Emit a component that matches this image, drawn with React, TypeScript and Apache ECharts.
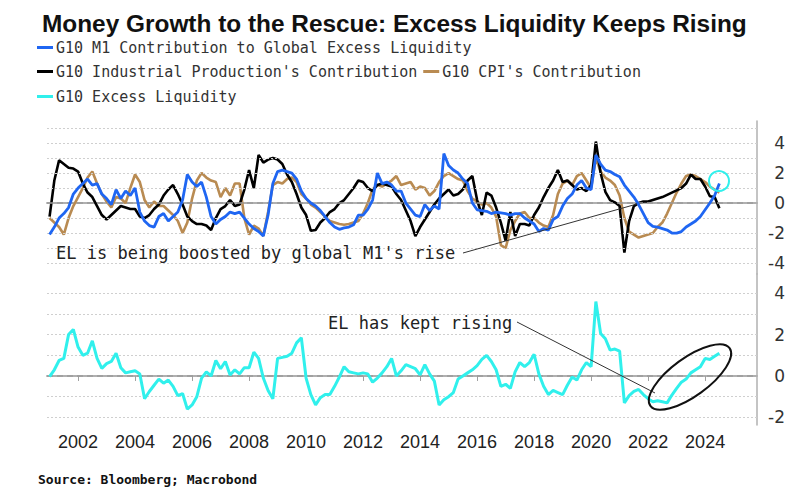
import React, { useEffect, useRef } from "react";
import * as echarts from "echarts";

// ---- data (bi-monthly samples, starting Jan 2001) ----
const START_YEAR = 2001;
const STEP = 1 / 6;

const m1Contribution = [
  -2.1, -1.6, -1.0, -0.7, -0.3, 0.6,
  1.0, 1.3, 1.6, 1.2, 1.3, 0.6,
  0.3, -0.1, 0.9, 0.3, 0.8, 0.5,
  1.0, -0.6, -1.2, -1.5, -1.6, -0.9,
  -0.7, -1.2, -0.9, -0.6, 0.2, 1.9,
  1.4, 1.1, 1.4, 0.4, -0.9, -1.4,
  -1.1, -0.9, -0.6, -0.7, -0.6, -1.0,
  -1.4, -1.7, -1.9, -2.2, -0.8, 1.3,
  2.1, 2.2, 2.1, 2.0, 1.6, 0.8,
  0.3, 0.0, -0.2, -0.5, -0.9, -1.3,
  -1.6, -1.75, -1.65, -1.6, -1.45, -0.8,
  -0.8, -0.4, 0.2, 2.0, 1.3, 1.4,
  1.2, 0.8, 0.8, 0.0, -0.4, -0.8,
  -0.9, -0.1, -0.5, -0.2, -0.4, 3.3,
  2.5, 2.2, 2.0, 1.6, 1.3, 0.0,
  -0.45, -0.5, -0.55, -0.7, -0.6, -0.65,
  -0.7, -0.8, -0.7, -0.7, -1.0, -1.2,
  -1.4, -1.9, -1.7, -1.8, -1.1, -0.9,
  -0.2, 0.3, 0.6, 1.2, 1.5, 1.0,
  0.9, 3.2, 2.6, 2.2, 2.1, 1.9,
  1.75, 1.2, 0.8, 0.4, -0.1, -0.7,
  -1.3, -1.55, -1.6, -1.7, -1.8, -2.0,
  -2.0, -1.9, -1.6, -1.4, -1.2, -0.9,
  -0.45, 0.0, 0.5, 1.3,
];

const ipContribution = [
  -0.9, 1.5, 2.85, 2.6, 2.35, 2.3,
  2.1, 1.3, 0.7, 0.4, -0.2, -0.8,
  -1.1, -0.8, -0.5, -0.2, -0.3, -0.4,
  -0.4, -0.9, -1.0, -0.8, -0.4, -0.1,
  0.5, 0.9, 1.2, 0.6, -0.1, -0.9,
  -1.2, -1.4, -1.4, -1.5, -1.8, -1.0,
  -0.4, -0.2, 0.2, -0.2, -0.1, 0.9,
  2.2, 1.0, 3.2, 2.7, 2.9, 3.0,
  2.9, 2.6, 1.9, 1.4, 0.6, -0.3,
  -0.8, -1.85, -1.8, -1.3, -1.0, -0.6,
  -0.4, 0.0, 0.2, 0.6, 1.0, 1.5,
  1.4, 1.0, 0.8, 1.2, 1.3, 1.2,
  1.1, 0.6, 0.2, -0.5, -1.2, -2.2,
  -1.6, -1.1, -0.6, -0.1, 0.3, 0.6,
  0.9, 0.5, 0.6, 0.9, 1.5, 1.8,
  0.2, -0.8, 0.7, 0.5, -0.3, -1.3,
  -2.5, -0.6, -2.2, -1.4, -1.4, -1.5,
  -0.8, -0.3, 0.4, 1.0, 1.5, 2.2,
  1.4, 1.5, 1.2, 0.9, 1.0, 0.8,
  1.2, 4.1, 2.0, 0.75, 0.2, 0.05,
  -0.2, -3.3, -1.2, -0.2, 0.0, 0.1,
  0.1, 0.2, 0.3, 0.4, 0.55, 0.7,
  0.85, 1.0, 1.3, 1.9, 1.6, 1.6,
  1.1, 0.45, 0.4, -0.35,
];

const cpiContribution = [
  -1.0, -1.3, -1.6, -2.1, -1.0, -0.2,
  0.4, 1.0, 1.7, 2.1, 1.3, 0.6,
  0.1, -0.3, 0.4, 0.3, 0.0, 1.0,
  1.9, 1.4, 0.2, -0.3, 0.1, -0.2,
  -0.2, -0.5, -0.8, -1.2, -2.0, -1.3,
  0.3, 1.5, 2.0, 1.7, 1.5, 1.4,
  0.4, 1.0, 0.5, 1.3, 1.3, -1.0,
  -2.1, -1.5, -1.7, -2.2, -0.6, 1.2,
  1.4, 1.3, 1.6, 1.7, 1.4, 0.6,
  0.3, -0.1, -0.3, -0.6, -0.9, -1.2,
  -1.3, -1.4, -1.45, -1.4, -1.3, -1.2,
  -0.7, 0.0, 0.9, 1.2, 1.1, 1.3,
  1.5, 1.8, 1.2, 1.3, 1.4, 0.9,
  1.1, 1.0, 0.5, 0.8, 1.4, 1.8,
  2.0, 1.8, 1.6, 1.5, 0.8, 0.3,
  0.1, -0.1, 0.0, -0.3, -0.9, -2.8,
  -3.0, -1.8, -1.2, -0.7, -0.6, -1.0,
  -1.0, -1.3, -1.5, -1.6, -0.8, 0.6,
  1.3, 1.5, 1.2, 1.8, 2.0, 1.5,
  1.0, 3.0, 2.1, 1.7, 1.5, 1.2,
  0.5, -1.0, -1.9, -2.1, -2.3, -2.2,
  -2.1, -2.0, -1.6, -1.3, -0.7, 0.0,
  0.7, 1.3, 1.8, 1.9, 1.8, 1.6,
  1.4, 1.1, 0.9, 0.7,
];

const excessLiquidity = [
  -0.03, 0.3, 0.75, 0.85, 2.0, 2.25,
  1.4, 1.0, 1.1, 1.7, 0.85, 0.37,
  0.6, 0.7, 1.1, 0.4, 0.15, 0.2,
  0.25, 0.1, -1.1, -0.75, -0.45, -0.15,
  -0.35, -0.2, -0.5, -0.95, -0.85, -1.6,
  -1.4, -1.0, -0.1, 0.2, 0.0, 0.75,
  0.35, 0.7, 0.05, 0.3, 0.1, 0.4,
  0.4, 1.15, 0.85, -0.1, -0.7, -1.1,
  0.85, 0.9, 0.95, 1.1, 1.6, 1.85,
  -0.1, -0.9, -1.4, -1.05, -0.9, -0.9,
  -0.5, -0.05, 0.45, 0.2, 0.15, 0.1,
  0.15, 0.1, -0.3, -0.1, 0.15, 0.45,
  0.85, 0.0, 0.25, 0.55, 0.45, 0.35,
  0.05, 0.55, 0.1, -0.25, -1.4, -1.15,
  -1.0, -0.8, -0.15, 0.0, 0.15, 0.3,
  0.5, 0.8, 1.0, 0.7, 0.3, -0.5,
  -0.4, -0.6, 0.2, 0.65, 0.45, 0.65,
  1.05, 0.1, -0.5, -0.9, -0.7, -0.8,
  -0.9, -0.45, -0.05, -0.2, 0.3, 0.65,
  0.45, 3.6, 2.05, 1.8, 1.25, 1.3,
  1.2, -1.3, -0.95, -0.75, -0.65, -0.9,
  -1.1, -1.25, -1.2, -1.25, -1.3, -0.92,
  -0.6, -0.3, -0.15, 0.15, 0.3, 0.45,
  0.85, 0.8, 0.95, 1.1,
];

const yearLabels = [2002, 2004, 2006, 2008, 2010, 2012, 2014, 2016, 2018, 2020, 2022, 2024];
const topTickLabels = [-4, -2, 0, 2, 4];
const bottomTickLabels = [-2, 0, 2, 4];
const topGridValues = [-4, -3, -2, -1, 1, 2, 3, 4, 5];
const bottomGridValues = [-2, -1, 1, 2, 3, 4];

const NAME_M1 = "G10 M1 Contribution to Global Excess Liquidity";
const NAME_IP = "G10 Industrial Production's Contribution";
const NAME_CPI = "G10 CPI's Contribution";
const NAME_EL = "G10 Excess Liquidity";

const COLORS = {
  m1: "#1f66f2",
  ip: "#000000",
  cpi: "#b98b52",
  el: "#30f0ec",
};

const toPairs = (vals: number[]) => vals.map((v, i) => [START_YEAR + i * STEP, v]);

const gridMarkLine = (values: number[]) => ({
  silent: true,
  symbol: ["none", "none"],
  label: { show: false },
  data: [
    ...values.map((v) => ({
      yAxis: v,
      lineStyle: { color: "#cfcfcf", type: [2, 2], width: 1 },
    })),
    { yAxis: 0, lineStyle: { color: "#9a9a9a", type: [6, 4], width: 1.5 } },
  ],
});

const MONO = "'DejaVu Sans Mono', monospace";
const SANS = "'Liberation Sans', Arial, sans-serif";

function buildOption(): any {
  const xCommon = {
    type: "value",
    min: 2000.91,
    max: 2025.82,
    splitLine: { show: false },
  };
  return {
    animation: false,
    backgroundColor: "#ffffff",
    title: {
      text: "Money Growth to the Rescue: Excess Liquidity Keeps Rising",
      left: 37,
      top: 6,
      textStyle: {
        fontFamily: SANS,
        fontWeight: "bold",
        fontSize: 24.4,
        color: "#111",
      },
    },
    legend: [
      {
        data: [NAME_M1],
        left: 37,
        top: 40,
      },
      {
        data: [NAME_IP, NAME_CPI],
        left: 37,
        top: 64,
        itemGap: 6,
      },
      {
        data: [NAME_EL],
        left: 37,
        top: 89,
      },
    ].map((l) => ({
      ...l,
      icon: "rect",
      itemWidth: 16,
      itemHeight: 3,
      padding: 0,
      selectedMode: false,
      textStyle: { fontFamily: MONO, fontSize: 15, color: "#333", padding: [0, 0, 0, -2] },
    })),
    grid: [
      { left: 47, right: 52, top: 121, height: 153 },
      { left: 47, right: 52, top: 274, height: 151 },
    ],
    xAxis: [
      {
        ...xCommon,
        gridIndex: 0,
        axisLine: { show: true, lineStyle: { color: "#b0b0b0", width: 2 } },
        axisTick: { show: false },
        axisLabel: { show: false },
      },
      {
        ...xCommon,
        gridIndex: 1,
        axisLine: { show: true, lineStyle: { color: "#b0b0b0", width: 2 } },
        axisTick: {
          show: true,
          length: 5,
          customValues: yearLabels,
          lineStyle: { color: "#a0a0a0", width: 1 },
        },
        axisLabel: {
          customValues: yearLabels,
          formatter: (v: number) => String(Math.round(v)),
          fontFamily: SANS,
          fontSize: 18,
          color: "#222",
          margin: 8,
        },
      },
    ],
    yAxis: [
      {
        type: "value",
        gridIndex: 0,
        position: "right",
        min: -4.73,
        max: 5.47,
        splitLine: { show: false },
        axisLine: { show: true, lineStyle: { color: "#b0b0b0", width: 1.5 } },
        axisTick: { show: false },
        axisLabel: {
          customValues: topTickLabels,
          fontFamily: "'DejaVu Sans', sans-serif",
          fontSize: 17,
          color: "#333",
          align: "right",
          margin: 28,
        },
      },
      {
        type: "value",
        gridIndex: 1,
        position: "right",
        min: -2.37,
        max: 4.93,
        splitLine: { show: false },
        axisLine: { show: true, lineStyle: { color: "#b0b0b0", width: 1.5 } },
        axisTick: { show: false },
        axisLabel: {
          customValues: bottomTickLabels,
          fontFamily: "'DejaVu Sans', sans-serif",
          fontSize: 17,
          color: "#333",
          align: "right",
          margin: 28,
        },
      },
    ],
    series: [
      {
        name: "gridTop",
        type: "line",
        xAxisIndex: 0,
        yAxisIndex: 0,
        data: [],
        z: 1,
        markLine: gridMarkLine(topGridValues),
      },
      {
        name: "gridBottom",
        type: "line",
        xAxisIndex: 1,
        yAxisIndex: 1,
        data: [],
        z: 1,
        markLine: gridMarkLine(bottomGridValues),
      },
      {
        name: NAME_CPI,
        type: "line",
        xAxisIndex: 0,
        yAxisIndex: 0,
        data: toPairs(cpiContribution),
        showSymbol: false,
        color: COLORS.cpi,
        lineStyle: { width: 2.6, color: COLORS.cpi },
        z: 3,
      },
      {
        name: NAME_IP,
        type: "line",
        xAxisIndex: 0,
        yAxisIndex: 0,
        data: toPairs(ipContribution),
        showSymbol: false,
        color: COLORS.ip,
        lineStyle: { width: 2.6, color: COLORS.ip },
        z: 4,
      },
      {
        name: NAME_M1,
        type: "line",
        xAxisIndex: 0,
        yAxisIndex: 0,
        data: toPairs(m1Contribution),
        showSymbol: false,
        color: COLORS.m1,
        lineStyle: { width: 2.8, color: COLORS.m1 },
        z: 5,
      },
      {
        name: NAME_EL,
        type: "line",
        xAxisIndex: 1,
        yAxisIndex: 1,
        data: toPairs(excessLiquidity),
        showSymbol: false,
        color: COLORS.el,
        lineStyle: { width: 3, color: COLORS.el },
        z: 5,
      },
    ],
    graphic: [
      {
        type: "text",
        left: 38,
        top: 473,
        style: {
          text: "Source: Bloomberg; Macrobond",
          font: `bold 13px ${MONO}`,
          fill: "#111",
        },
      },
      {
        type: "text",
        x: 56,
        y: 253,
        z: 10,
        style: {
          text: "EL is being boosted by global M1's rise",
          font: `17px ${MONO}`,
          fill: "#222",
          verticalAlign: "middle",
        },
      },
      {
        type: "line",
        z: 10,
        shape: { x1: 463, y1: 253, x2: 637, y2: 204 },
        style: { stroke: "#333", lineWidth: 1 },
      },
      {
        type: "circle",
        z: 10,
        shape: { cx: 719, cy: 181, r: 10 },
        style: { fill: "none", stroke: COLORS.el, lineWidth: 2 },
      },
      {
        type: "text",
        x: 328,
        y: 323,
        z: 10,
        style: {
          text: "EL has kept rising",
          font: `17px ${MONO}`,
          fill: "#222",
          verticalAlign: "middle",
        },
      },
      {
        type: "line",
        z: 10,
        shape: { x1: 517, y1: 322, x2: 655, y2: 393 },
        style: { stroke: "#333", lineWidth: 1 },
      },
      {
        type: "ellipse",
        z: 10,
        x: 690,
        y: 377,
        rotation: 0.63,
        shape: { cx: 0, cy: 0, rx: 49, ry: 19 },
        style: { fill: "none", stroke: "#111", lineWidth: 2 },
      },
    ],
  };
}

export default function App() {
  const ref = useRef<HTMLDivElement>(null);
  useEffect(() => {
    document.body.style.margin = "0";
    const chart = echarts.init(ref.current as HTMLDivElement, null, { renderer: "svg" });
    chart.setOption(buildOption());
    return () => chart.dispose();
  }, []);
  return <div ref={ref} style={{ width: 809, height: 501 }} />;
}
